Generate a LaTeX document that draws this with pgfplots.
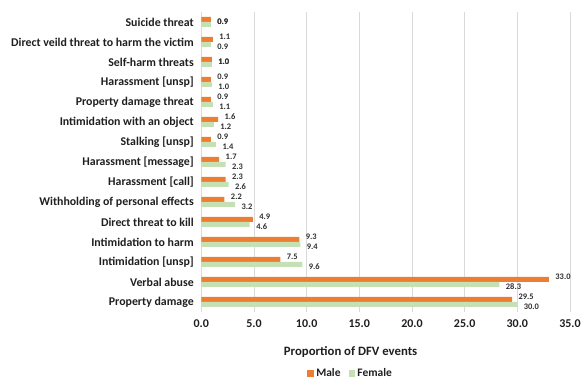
\documentclass[border=0pt]{standalone}
\usepackage{pgfplots}
\pgfplotsset{compat=1.18}
\usepackage{pgfplotstable}
\usepackage{fontspec}
\setmainfont{Carlito}
\definecolor{male}{HTML}{ED7D31}
\definecolor{female}{HTML}{C5E0B4}
\definecolor{gridc}{HTML}{D9D9D9}
\definecolor{txt}{HTML}{1F1F1F}
\definecolor{lab}{HTML}{303030}

\pgfplotstableread{
y x dy
0 29.5 2.5
1 33.0 2.5
2 7.5 2.5
3 9.3 2.5
4 4.9 2.5
5 2.2 2.5
6 2.3 2.5
7 1.7 2.5
8 0.9 2.5
9 1.6 2.5
10 0.9 2.5
11 0.9 2.5
12 1.0 -2.5
13 1.1 2.5
14 0.9 -2.5
}\male

\pgfplotstableread{
y x dy
0 30.0 -2.5
1 28.3 -2.5
2 9.6 -2.5
3 9.4 -2.5
4 4.6 -2.5
5 3.2 -2.5
6 2.6 -2.5
7 2.3 -2.5
8 1.4 -2.5
9 1.2 -2.5
10 1.1 -2.5
11 1.0 -2.5
12 1.0 2.5
13 0.9 -2.5
14 0.9 2.5
}\female

\begin{document}
\begin{tikzpicture}
\begin{axis}[
  name=ax,
  scale only axis,
  width=370pt, height=301pt,
  xmin=0, xmax=35,
  ymin=-0.5, ymax=14.5,
  xbar, bar width=5pt,
  axis line style={draw=none},
  xmajorgrids, grid style={gridc, line width=0.8pt},
  major tick length=0pt,
  xtick={0,5,...,35},
  /pgf/number format/assume math mode=true,
  ticklabel style={font=\fontsize{12}{14}\selectfont\bfseries, text=txt},
  xticklabel style={yshift=-4pt},
  xticklabel={\pgfmathprintnumber[fixed,fixed zerofill,precision=1]{\tick}},
  ytick={0,...,14},
  yticklabels={Property damage, Verbal abuse, Intimidation [unsp], Intimidation to harm, Direct threat to kill, Withholding of personal effects, Harassment [call], Harassment [message], Stalking [unsp], Intimidation with an object, Property damage threat, Harassment [unsp], Self-harm threats, Direct veild threat to harm the victim, Suicide threat},
  yticklabel style={font=\fontsize{11.9}{13}\selectfont\bfseries, xshift=-4pt},
  xlabel={Proportion of DFV events},
  xlabel style={font=\fontsize{12.8}{14}\selectfont\bfseries, text=txt, at={(axis description cs:0.405,-0.133)}, anchor=center},
  legend style={at={(axis description cs:0.405,-0.206)}, anchor=center, draw=none, legend columns=2, font=\fontsize{11.5}{13}\selectfont\bfseries, text=txt, /tikz/every even column/.append style={column sep=6pt}},
  legend image code/.code={\fill[#1] (0pt,-3.5pt) rectangle (7pt,3.5pt);},
  visualization depends on={\thisrow{dy}\as\dy},
  nodes near coords={\pgfmathprintnumber[fixed,fixed zerofill,precision=1]{\pgfplotspointmeta}},
  nodes near coords style={font=\fontsize{8.5}{9}\selectfont\bfseries, text=lab, anchor=west, xshift=3pt, yshift=\dy},
]
\addplot[fill=male, draw=none, bar shift=2.5pt] table[x=x,y=y] {\male};
\addplot[fill=female, draw=none, bar shift=-2.5pt] table[x=x,y=y] {\female};
\legend{Male, Female}
\end{axis}
\path ([xshift=-202pt,yshift=-68pt]ax.south west) rectangle ([xshift=12pt,yshift=12pt]ax.north east);
\end{tikzpicture}
\end{document}
